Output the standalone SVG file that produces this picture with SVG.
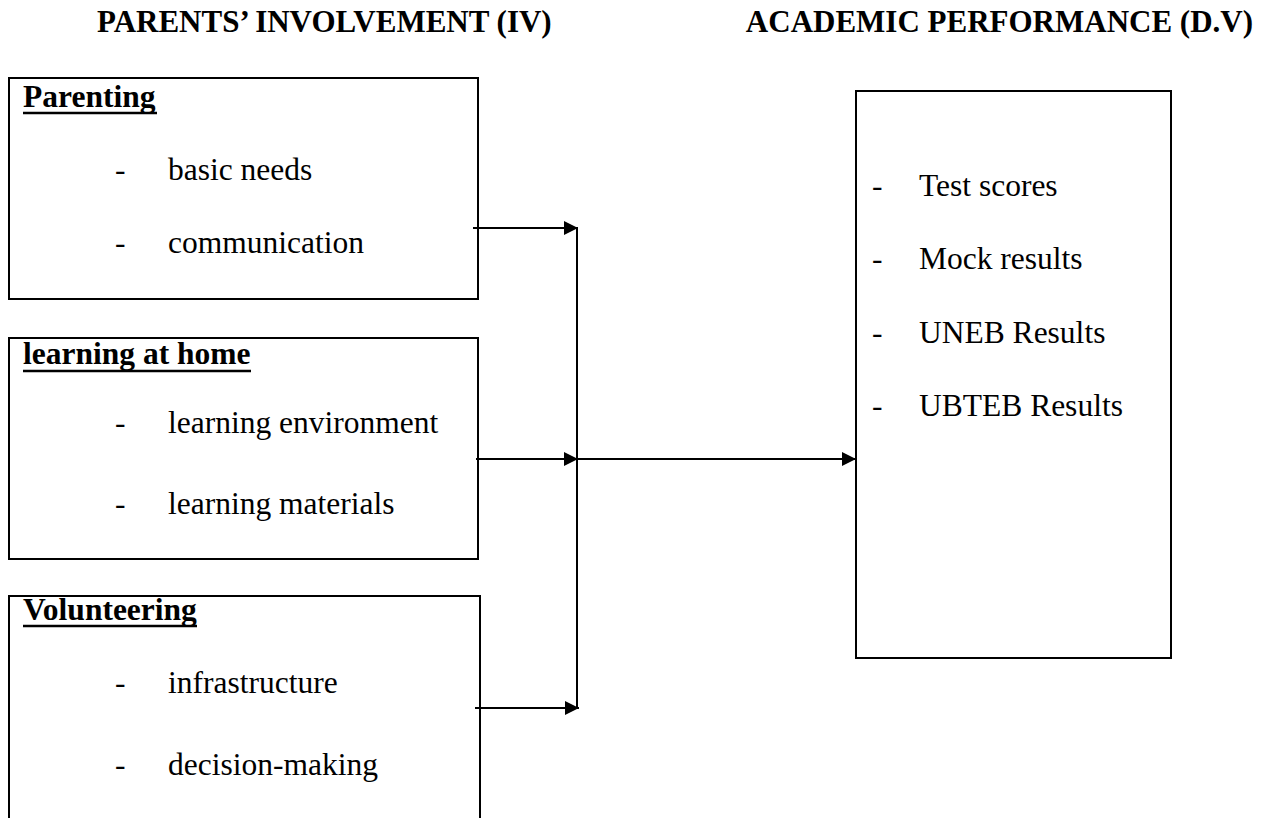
<svg xmlns="http://www.w3.org/2000/svg" width="1267" height="818" viewBox="0 0 1267 818">
  <style>
    .box { fill: #ffffff; stroke: #000000; stroke-width: 2; }
    .title { font-family: "Liberation Serif", "Times New Roman", serif; font-size: 31px; font-weight: bold; fill: #000; }
    .head { font-family: "Liberation Serif", "Times New Roman", serif; font-size: 31.5px; font-weight: bold; fill: #000; }
    .item { font-family: "Liberation Serif", "Times New Roman", serif; font-size: 31.5px; fill: #000; }
    .ul { stroke: #000; stroke-width: 2.5; }
    .conn { stroke: #000; stroke-width: 2; fill: none; }
  </style>
  <defs>
    <marker id="arrow" viewBox="0 0 14 14" refX="14" refY="7" markerWidth="14" markerHeight="14" markerUnits="userSpaceOnUse" orient="auto">
      <path d="M0,0 L14,7 L0,14 Z" fill="#000"/>
    </marker>
  </defs>
  <rect width="1267" height="818" fill="#ffffff"/>

  <g id="titles">
    <text class="title" x="97" y="32">PARENTS’ INVOLVEMENT (IV)</text>
    <text class="title" x="1253" y="32" text-anchor="end">ACADEMIC PERFORMANCE (D.V)</text>
  </g>

  <g id="node-parenting">
    <rect class="box" x="9" y="78" width="469" height="221"/>
    <text class="head" x="23" y="107">Parenting</text>
    <line class="ul" x1="23" y1="113" x2="157" y2="113"/>
    <text class="item" x="115" y="180">-</text>
    <text class="item" x="168" y="180">basic needs</text>
    <text class="item" x="115" y="253">-</text>
    <text class="item" x="168" y="253">communication</text>
  </g>

  <g id="node-learning">
    <rect class="box" x="9" y="338" width="469" height="221"/>
    <text class="head" x="23" y="364">learning at home</text>
    <line class="ul" x1="23" y1="371" x2="251" y2="371"/>
    <text class="item" x="115" y="433">-</text>
    <text class="item" x="168" y="433">learning environment</text>
    <text class="item" x="115" y="514">-</text>
    <text class="item" x="168" y="514">learning materials</text>
  </g>

  <g id="node-volunteering">
    <path class="box" d="M9,830 L9,596 L480,596 L480,830"/>
    <text class="head" x="23" y="620">Volunteering</text>
    <line class="ul" x1="23" y1="626" x2="197" y2="626"/>
    <text class="item" x="115" y="693">-</text>
    <text class="item" x="168" y="693">infrastructure</text>
    <text class="item" x="115" y="775">-</text>
    <text class="item" x="168" y="775">decision-making</text>
  </g>

  <g id="node-academic">
    <rect class="box" x="856" y="91" width="315" height="567"/>
    <text class="item" x="872" y="196">-</text>
    <text class="item" x="919" y="196">Test scores</text>
    <text class="item" x="872" y="269">-</text>
    <text class="item" x="919" y="269">Mock results</text>
    <text class="item" x="872" y="343">-</text>
    <text class="item" x="919" y="343">UNEB Results</text>
    <text class="item" x="872" y="416">-</text>
    <text class="item" x="919" y="416">UBTEB Results</text>
  </g>

  <g id="connectors">
    <line class="conn" x1="577" y1="228" x2="577" y2="708"/>
    <line class="conn" x1="473" y1="228" x2="578" y2="228" marker-end="url(#arrow)"/>
    <line class="conn" x1="476" y1="459" x2="578" y2="459" marker-end="url(#arrow)"/>
    <line class="conn" x1="475" y1="708" x2="579" y2="708" marker-end="url(#arrow)"/>
    <line class="conn" x1="577" y1="459" x2="856" y2="459" marker-end="url(#arrow)"/>
  </g>
</svg>
